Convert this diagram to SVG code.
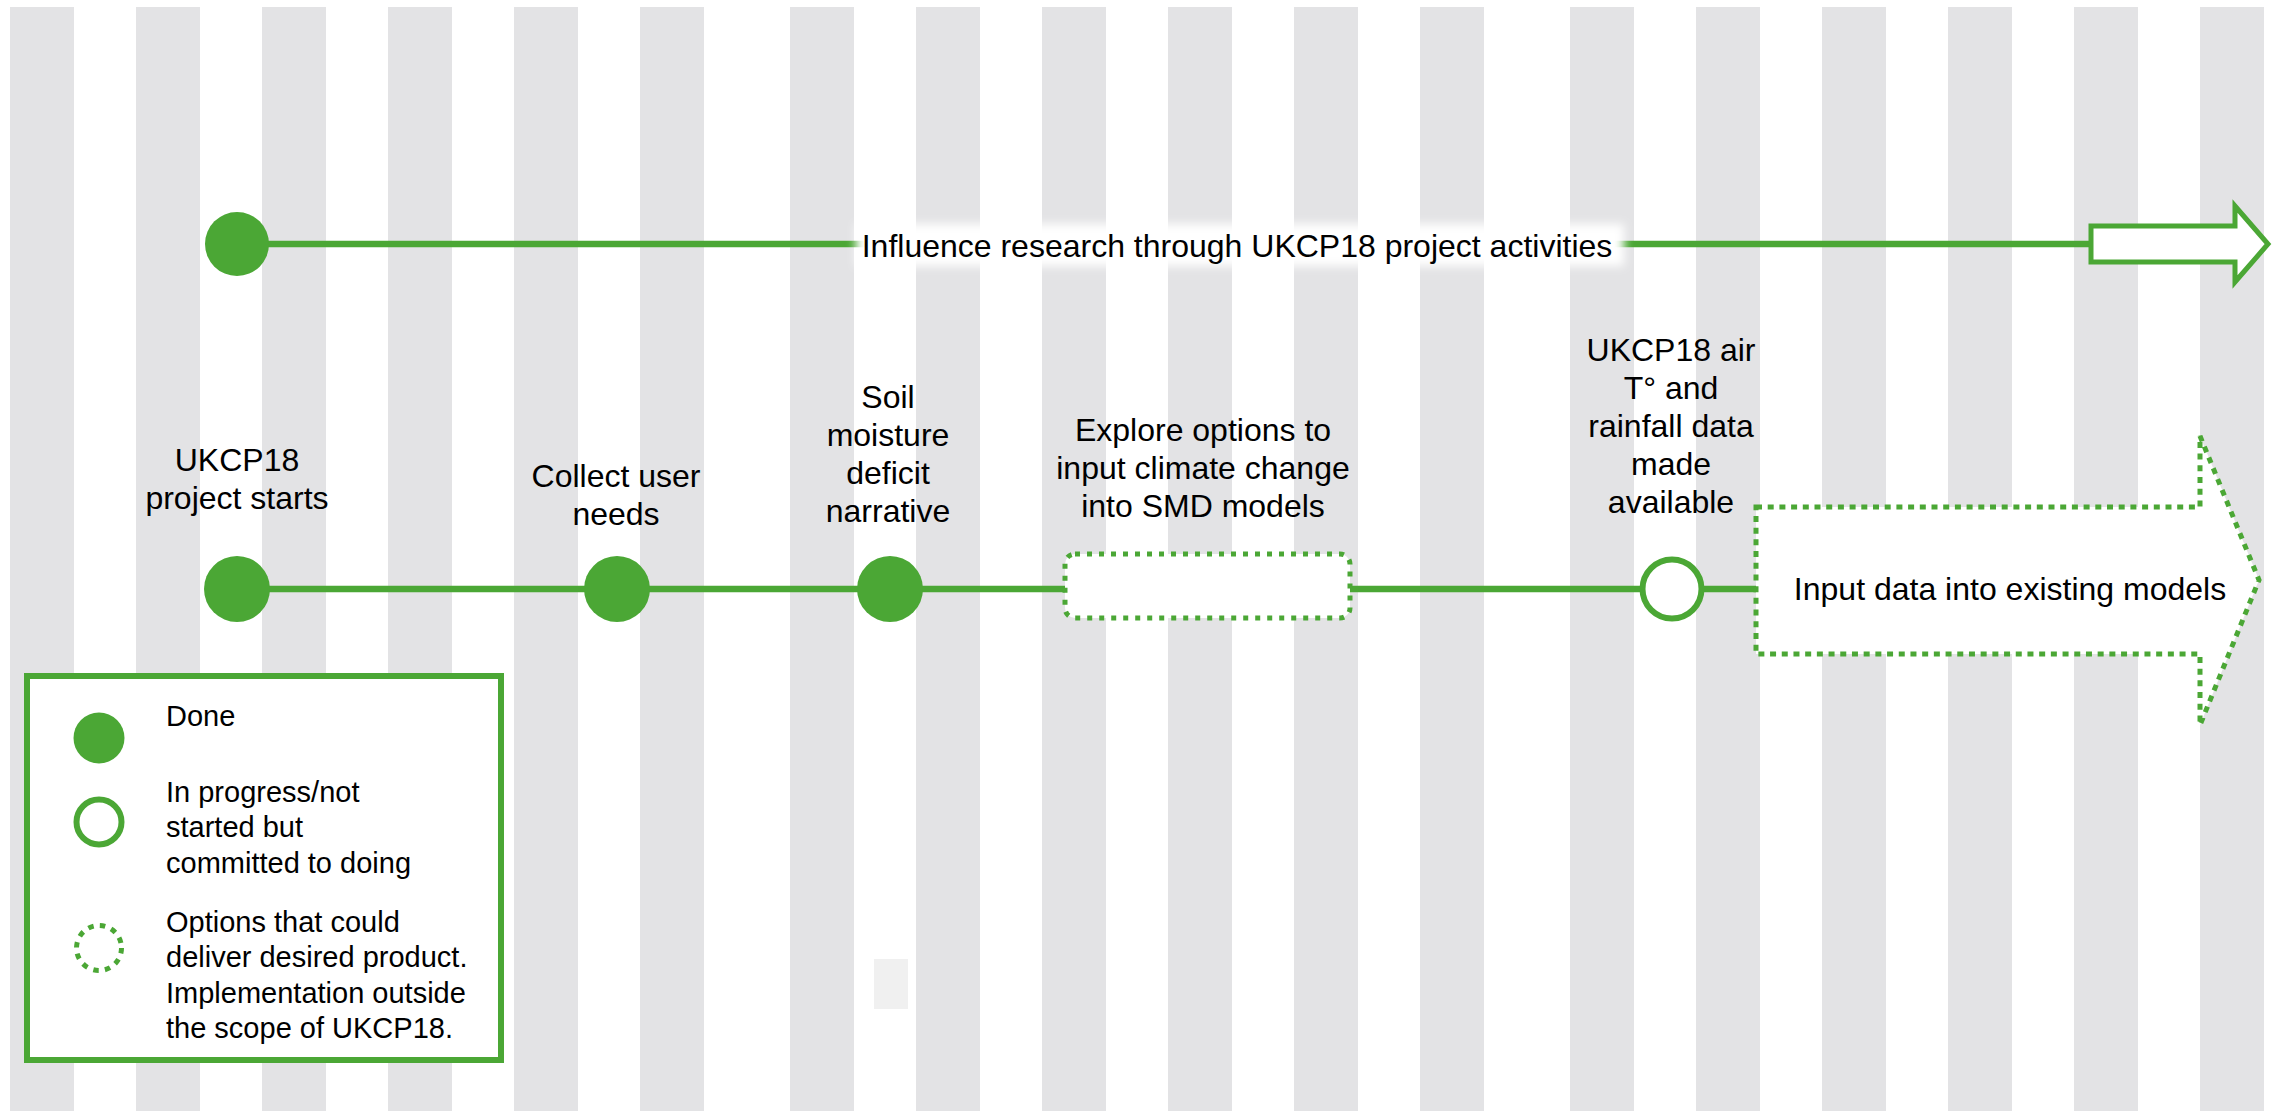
<svg xmlns="http://www.w3.org/2000/svg" width="2274" height="1111" viewBox="0 0 2274 1111">
<style>
.stripe{fill:#e3e3e5}
.lbl{font-family:"Liberation Sans",Arial,sans-serif;font-size:32px;fill:#000;text-anchor:middle}
.leg{font-family:"Liberation Sans",Arial,sans-serif;font-size:29px;fill:#000}
.done{fill:#4ba735}
.line{stroke:#4ba735;stroke-width:6.5;fill:none}
.open{fill:#fff;stroke:#4ba735;stroke-width:6}
.dot{fill:#fff;stroke:#4ba735;stroke-width:5;stroke-dasharray:5 7}
</style>
<defs>
<filter id="glow" x="-10%" y="-50%" width="120%" height="200%"><feGaussianBlur stdDeviation="5"/></filter>
<pattern id="stripes" x="0" y="0" width="780" height="1111" patternUnits="userSpaceOnUse">
<rect class="stripe" x="10" y="0" width="64" height="1111"/>
<rect class="stripe" x="136" y="0" width="64" height="1111"/>
<rect class="stripe" x="262" y="0" width="64" height="1111"/>
<rect class="stripe" x="388" y="0" width="64" height="1111"/>
<rect class="stripe" x="514" y="0" width="64" height="1111"/>
<rect class="stripe" x="640" y="0" width="64" height="1111"/>
</pattern>
</defs>
<rect width="2274" height="1111" fill="#fff"/>
<g id="background">
<rect x="0" y="7" width="2274" height="1104" fill="url(#stripes)"/>
<rect x="874" y="959" width="34" height="50" fill="#f0f0f0"/>
</g>
<g id="connectors">
<line class="line" x1="260" y1="244" x2="2092" y2="244"/>
<line class="line" x1="260" y1="589" x2="1066" y2="589"/>
<line class="line" x1="1349" y1="589" x2="1645" y2="589"/>
<line class="line" x1="1700" y1="589" x2="1757" y2="589"/>
</g>
<g id="node-influence">
<circle class="done" cx="237" cy="244" r="32"/>
<rect x="856" y="224" width="768" height="42" fill="#fff" filter="url(#glow)"/>
<text class="lbl" x="1237" y="257">Influence research through UKCP18 project activities</text>
<polygon points="2091,226 2235,226 2235,206 2268,244 2235,282 2235,262 2091,262" fill="#fff" stroke="#4ba735" stroke-width="5"/>
</g>
<g id="node-start">
<circle class="done" cx="237" cy="589" r="33"/>
<text class="lbl" x="237" y="471">UKCP18</text>
<text class="lbl" x="237" y="509">project starts</text>
</g>
<g id="node-collect">
<circle class="done" cx="617" cy="589" r="33"/>
<text class="lbl" x="616" y="487">Collect user</text>
<text class="lbl" x="616" y="525">needs</text>
</g>
<g id="node-soil">
<circle class="done" cx="890" cy="589" r="33"/>
<text class="lbl" x="888" y="408">Soil</text>
<text class="lbl" x="888" y="446">moisture</text>
<text class="lbl" x="888" y="484">deficit</text>
<text class="lbl" x="888" y="522">narrative</text>
</g>
<g id="node-explore">
<rect class="dot" x="1065" y="554" width="285" height="64" rx="10"/>
<text class="lbl" x="1203" y="441">Explore options to</text>
<text class="lbl" x="1203" y="479">input climate change</text>
<text class="lbl" x="1203" y="517">into SMD models</text>
</g>
<g id="node-data">
<circle class="open" cx="1672" cy="589" r="29.5"/>
<text class="lbl" x="1671" y="361">UKCP18 air</text>
<text class="lbl" x="1671" y="399">T° and</text>
<text class="lbl" x="1671" y="437">rainfall data</text>
<text class="lbl" x="1671" y="475">made</text>
<text class="lbl" x="1671" y="513">available</text>
</g>
<g id="node-input">
<polygon class="dot" points="1756,507 2200,507 2200,436 2259,580 2200,725 2200,654 1756,654" style="stroke-dasharray:6 5.7"/>
<text class="lbl" x="2010" y="600">Input data into existing models</text>
</g>
<g id="legend">
<rect x="27" y="676" width="474" height="384" fill="#fff" stroke="#4ba735" stroke-width="6"/>
<circle class="done" cx="99" cy="738" r="25.5"/>
<circle class="open" cx="99" cy="822" r="22.5"/>
<circle class="dot" cx="99" cy="948" r="22.5" style="stroke-dasharray:5.5 6.3"/>
<text class="leg" x="166" y="726">Done</text>
<text class="leg" x="166" y="802">In progress/not</text>
<text class="leg" x="166" y="837">started but</text>
<text class="leg" x="166" y="873">committed to doing</text>
<text class="leg" x="166" y="932">Options that could</text>
<text class="leg" x="166" y="967">deliver desired product.</text>
<text class="leg" x="166" y="1003">Implementation outside</text>
<text class="leg" x="166" y="1038">the scope of UKCP18.</text>
</g>
</svg>
